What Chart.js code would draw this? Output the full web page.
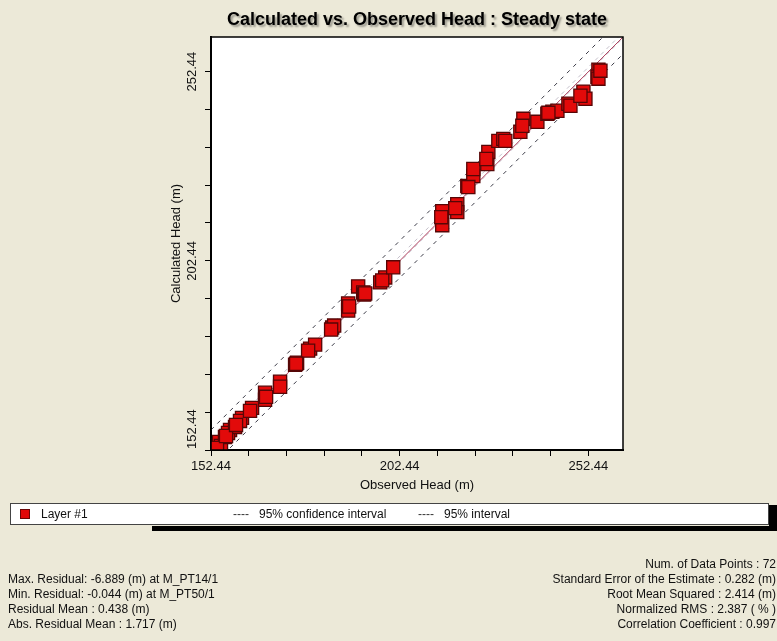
<!DOCTYPE html>
<html><head><meta charset="utf-8">
<script src="https://cdn.jsdelivr.net/npm/chart.js@4.4.1/dist/chart.umd.min.js"></script>
<style>
html,body{margin:0;padding:0;background:#ECE9D8;width:777px;height:641px;overflow:hidden;font-family:"Liberation Sans",Arial,sans-serif;}
#c{position:absolute;left:0;top:0;}
#legend{position:absolute;left:10px;top:503px;width:757px;height:20px;background:#fff;border:1px solid #444;font-size:12px;color:#111;}
#legend span{position:absolute;top:3px;white-space:nowrap;}
#legend .sw{position:absolute;left:9px;top:5px;width:8px;height:8px;background:#E00808;border:1px solid #6a0505;}
#bar{position:absolute;left:152px;top:526px;width:625px;height:5px;background:#000;}
#blk{position:absolute;left:769px;top:505px;width:8px;height:26px;background:#000;}
.stats{position:absolute;font-size:12px;line-height:15px;color:#111;white-space:nowrap;}
#statsL{left:8px;top:572px;}
#statsR{right:1px;top:557px;text-align:right;}
</style></head><body>
<canvas id="c" width="777" height="641"></canvas>
<div id="legend"></div>
<div id="bar"></div><div id="blk"></div>
<div id="statsL" class="stats"></div>
<div id="statsR" class="stats"></div>
<script>
// ---- data ----
const observedHead = [154.30,154.56,155.09,156.15,157.48,156.95,158.81,160.66,160.13,163.32,162.78,166.76,166.76,167.03,170.74,170.74,174.72,175.25,178.70,180.03,178.17,184.54,185.07,184.27,188.78,188.78,189.04,191.43,192.76,193.02,197.27,198.59,197.80,200.72,213.71,213.71,213.45,217.69,217.69,217.16,220.35,221.94,221.94,225.65,225.92,225.39,228.57,229.89,230.42,234.40,235.20,234.93,238.91,241.56,242.89,244.22,247.14,247.67,251.11,251.64,250.32,255.09,254.83,255.09,255.62,154.03,156.42,159.07,175.00,220.62,241.83,193.29];
const calculatedHead = [153.77,154.56,153.50,155.89,157.75,156.95,158.54,160.93,160.13,163.58,162.78,167.56,165.70,166.50,170.48,169.15,174.99,175.52,179.23,180.29,178.70,184.80,185.33,184.27,191.17,189.31,190.37,195.68,194.08,193.55,196.74,198.06,197.27,200.72,211.86,215.57,213.98,217.43,215.31,216.37,222.20,224.85,226.71,228.04,231.22,229.36,234.14,234.67,234.14,236.53,239.97,238.12,239.18,241.30,241.83,242.10,243.95,243.42,247.14,245.28,246.08,252.97,251.11,250.58,252.70,152.97,156.15,159.07,175.25,221.94,241.56,193.82];
const tickValues = [152.44,162.44,172.44,182.44,192.44,202.44,212.44,222.44,232.44,242.44,252.44];
const tickLabels = ['152.44','202.44','252.44'];
const axisMin = 152.44, axisMax = 261.6;
const lineEnds = [152.44, 261.6];
const intervalOffsets = [5.3, -4.5];      // 95% interval
const confidenceOffsets = [1.2, -0.3];    // 95% confidence interval
const titleText = 'Calculated vs. Observed Head : Steady state';
const xTitle = 'Observed Head (m)';
const yTitle = 'Calculated Head (m)';
const seriesName = 'Layer #1';
const legendItems = ['95% confidence interval','95% interval'];
const statsLeft = ['Max. Residual: -6.889 (m) at M_PT14/1','Min. Residual: -0.044 (m) at M_PT50/1','Residual Mean : 0.438 (m)','Abs. Residual Mean : 1.717 (m)'];
const statsRight = ['Num. of Data Points : 72','Standard Error of the Estimate : 0.282 (m)','Root Mean Squared : 2.414 (m)','Normalized RMS : 2.387 ( % )','Correlation Coefficient : 0.997'];

// ---- html parts ----
const lg = document.getElementById('legend');
lg.innerHTML = '<div class="sw"></div><span style="left:30px">'+seriesName+'</span>'+
  '<span style="left:222px;color:#333">----</span><span style="left:248px">'+legendItems[0]+'</span>'+
  '<span style="left:407px;color:#333">----</span><span style="left:433px">'+legendItems[1]+'</span>';
document.getElementById('statsL').innerHTML = statsLeft.join('<br>');
document.getElementById('statsR').innerHTML = statsRight.join('<br>');

const FONT = '"Liberation Sans", Arial, sans-serif';
const pts = observedHead.map((x,i)=>({x, y: calculatedHead[i]}));
const offLine = o => lineEnds.map(x=>({x, y: x + o}));

const frame = {
  id:'frame',
  beforeDraw(chart){
    const {ctx, chartArea:a} = chart;
    ctx.save();
    ctx.fillStyle='#ECE9D8'; ctx.fillRect(0,0,chart.width,chart.height);
    ctx.fillStyle='#fff'; ctx.fillRect(a.left,a.top,a.right-a.left,a.bottom-a.top);
    ctx.restore();
  },
  afterDraw(chart){
    const {ctx, chartArea:a, scales:{y}} = chart;
    ctx.save();
    ctx.strokeStyle='#000'; ctx.lineWidth=1.5;
    ctx.strokeRect(a.left, a.top, a.right-a.left, a.bottom-a.top);
    ctx.font='13px '+FONT;
    ctx.fillStyle='#111'; ctx.textAlign='center'; ctx.textBaseline='middle';
    tickLabels.forEach(t=>{
      let py = y.getPixelForValue(parseFloat(t));
      const w = ctx.measureText(t).width;
      py = Math.min(py, a.bottom - w/2 - 1);
      ctx.save(); ctx.translate(a.left-19, py); ctx.rotate(-Math.PI/2); ctx.fillText(t,0,0); ctx.restore();
    });
    ctx.font='bold 18px '+FONT;
    ctx.fillStyle='#000';
    ctx.shadowColor='rgba(0,0,0,0.35)'; ctx.shadowOffsetX=2; ctx.shadowOffsetY=2; ctx.shadowBlur=2;
    ctx.fillText(titleText,(a.left+a.right)/2, 20);
    ctx.restore();
  }
};

new Chart(document.getElementById('c'), {
  type:'scatter',
  data:{datasets:[
    {label:seriesName, data:pts, pointStyle:'rect', pointRadius:9.3, pointHoverRadius:9.3,
     backgroundColor:'#E20A0A', borderColor:'#560606', borderWidth:1.3, order:0},
    {label:'1:1', data:offLine(0), showLine:true, pointRadius:0, borderColor:'#B0405E', borderWidth:1, order:1},
    {label:legendItems[0]+' +', data:offLine(confidenceOffsets[0]), showLine:true, pointRadius:0, borderColor:'rgba(150,140,160,0.55)', borderDash:[4,4], borderWidth:1, order:2},
    {label:legendItems[0]+' -', data:offLine(confidenceOffsets[1]), showLine:true, pointRadius:0, borderColor:'rgba(150,140,160,0.55)', borderDash:[4,4], borderWidth:1, order:2},
    {label:legendItems[1]+' +', data:offLine(intervalOffsets[0]), showLine:true, pointRadius:0, borderColor:'#3c3c48', borderDash:[4,5], borderWidth:1, order:3},
    {label:legendItems[1]+' -', data:offLine(intervalOffsets[1]), showLine:true, pointRadius:0, borderColor:'#3c3c48', borderDash:[4,5], borderWidth:1, order:3}
  ]},
  options:{
    responsive:false, animation:false, devicePixelRatio:1,
    layout:{padding:{left:160, top:37, right:154, bottom:146}},
    plugins:{legend:{display:false}, title:{display:false}, tooltip:{enabled:false}},
    scales:{
      x:{type:'linear', position:'bottom', min:axisMin, max:axisMax,
        afterBuildTicks:s=>{ s.ticks = tickValues.map(v=>({value:v})); },
        afterFit:s=>{ s.height = 45; },
        grid:{drawOnChartArea:false, drawTicks:true, tickLength:6, color:'#000', tickColor:'#000'},
        border:{display:true, color:'#000', width:2},
        ticks:{autoSkip:false, maxRotation:0, padding:3, color:'#111', font:{family:FONT, size:13},
          callback:v=> tickLabels.includes(Number(v).toFixed(2)) ? Number(v).toFixed(2) : ''},
        title:{display:true, text:xTitle, color:'#111', font:{family:FONT, size:13}, padding:{top:0, bottom:2}}
      },
      y:{type:'linear', position:'left', min:axisMin, max:axisMax,
        afterBuildTicks:s=>{ s.ticks = tickValues.map(v=>({value:v})); },
        afterFit:s=>{ s.width = 51; },
        grid:{drawOnChartArea:false, drawTicks:true, tickLength:6, color:'#000', tickColor:'#000'},
        border:{display:true, color:'#000', width:2},
        ticks:{display:false},
        title:{display:true, text:yTitle, color:'#111', font:{family:FONT, size:13}, padding:{top:9, bottom:0}}
      }
    }
  },
  plugins:[frame]
});
</script>
</body></html>
